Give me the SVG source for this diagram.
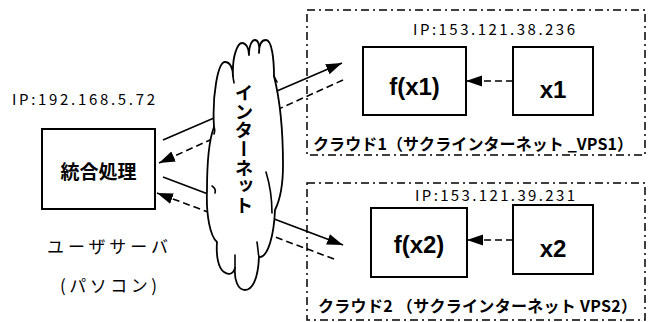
<svg xmlns="http://www.w3.org/2000/svg" width="650" height="322" viewBox="0 0 650 322">
<style>
.bg{fill:#fff}
.box{fill:#fff;stroke:#000;stroke-width:2}
.cont{fill:none;stroke:#000;stroke-width:1.5;stroke-dasharray:8 4 2 4}
.solid{stroke:#000;stroke-width:1.6;fill:none}
.dash{stroke:#000;stroke-width:1.6;fill:none;stroke-dasharray:7 4}
.ip{font-family:"Noto Sans CJK JP","Liberation Sans",sans-serif;font-size:15px;fill:#000}
.lbl{font-family:"Liberation Sans",Arial,sans-serif;font-weight:bold;font-size:24px;text-anchor:middle;fill:#000}
.jpb{font-family:"Noto Sans CJK JP","Noto Sans CJK SC",sans-serif;font-weight:bold;fill:#000}
.jp{font-family:"Noto Sans CJK JP","Noto Sans CJK SC",sans-serif;font-weight:normal;fill:#000}
.cloud{fill:#fff;stroke:#000;stroke-width:1.8;stroke-linejoin:round}
.hook{fill:none;stroke:#000;stroke-width:1.6;stroke-linecap:round}
</style>
<defs>
<marker id="ah" markerUnits="userSpaceOnUse" markerWidth="18" markerHeight="12" refX="16" refY="5.5" orient="auto">
<path d="M0,0 L16,5.5 L0,11 z" fill="#000"/>
</marker>
</defs>
<rect class="bg" x="0" y="0" width="650" height="322"/>

<g id="cloud1">
<rect class="cont" x="307" y="10" width="338" height="145"/>
<text class="ip" x="413" y="35" textLength="162" lengthAdjust="spacing">IP:153.121.38.236</text>
<text class="jpb" x="313" y="150" font-size="16" textLength="320" lengthAdjust="spacing">クラウド1（サクラインターネット _VPS1）</text>
</g>
<g id="cloud2">
<rect class="cont" x="307" y="183" width="338" height="137"/>
<text class="ip" x="415" y="201" textLength="160" lengthAdjust="spacing">IP:153.121.39.231</text>
<text class="jpb" x="318" y="312" font-size="16" textLength="319" lengthAdjust="spacing">クラウド2 （サクラインターネット  VPS2）</text>
</g>

<g id="connectors">
<line class="solid" x1="163" y1="140" x2="342" y2="63" marker-end="url(#ah)"/>
<line class="dash" x1="343" y1="80" x2="159" y2="163" marker-end="url(#ah)"/>
<line class="solid" x1="163" y1="177" x2="343" y2="245" marker-end="url(#ah)"/>
<line class="dash" x1="334" y1="259" x2="157" y2="193" marker-end="url(#ah)"/>
<line class="dash" x1="513" y1="81" x2="466" y2="81" marker-end="url(#ah)"/>
<line class="dash" x1="513" y1="240" x2="467" y2="240" marker-end="url(#ah)"/>
</g>

<g id="internet">
<path class="cloud" d="M214,127 C212,95 218,62 225,62 C230,62 233,68 233,76 C232,55 238,43 242,43 C246,43 249,48 249,55 C249,45 252,40 255,40 C258,40 260,45 259,53 C259,44 262,40 266,40 C272,40 274,60 274,76 C280,100 283,130 283,165 C283,185 280,200 275,210 C274,235 268,258 259,257 C258,280 252,290 245,290 C238,290 234,280 235,268 C233,275 228,275 224,272 C218,268 216,255 217,242 C210,236 206,215 207,190 C207,160 209,140 214,127 Z"/>
<path class="hook" d="M233,76 C233,79 234,81 234,83"/>
<path class="hook" d="M274,76 C275,79 276,80 277,82"/>
<path class="hook" d="M214,127 C215,129 215,131 214,134"/>
<path class="hook" d="M266,172 C270,185 272,200 272,213"/>
<path class="hook" d="M257,242 C258,248 258,253 259,257"/>
<path class="hook" d="M235,255 C235,260 235,264 235,268"/>
<path class="hook" d="M212,186 C215,188 216,190 215,193"/>
<text class="jpb" x="244" y="84" font-size="18.5" writing-mode="vertical-rl" textLength="130" lengthAdjust="spacing">インターネット</text>
</g>

<g id="user">
<text class="ip" x="12" y="105" textLength="143" lengthAdjust="spacing">IP:192.168.5.72</text>
<rect class="box" x="42" y="129" width="113" height="80" stroke-width="2.5"/>
<text class="jpb" x="98.5" y="179" font-size="19" text-anchor="middle">統合処理</text>
<text class="jp" x="47" y="253" font-size="17" textLength="121" lengthAdjust="spacing">ユーザサーバ</text>
<text class="jp" x="60" y="292" font-size="17" textLength="97" lengthAdjust="spacing">(パソコン)</text>
</g>

<g id="fx1">
<rect class="box" x="363" y="47" width="103" height="68"/>
<text class="lbl" x="414.5" y="95">f(x1)</text>
</g>
<g id="x1">
<rect class="box" x="513" y="47" width="80" height="68"/>
<text class="lbl" x="553" y="98">x1</text>
</g>
<g id="fx2">
<rect class="box" x="371" y="208" width="96" height="69"/>
<text class="lbl" x="419" y="253">f(x2)</text>
</g>
<g id="x2">
<rect class="box" x="513" y="205" width="80" height="69"/>
<text class="lbl" x="553" y="257">x2</text>
</g>
</svg>
